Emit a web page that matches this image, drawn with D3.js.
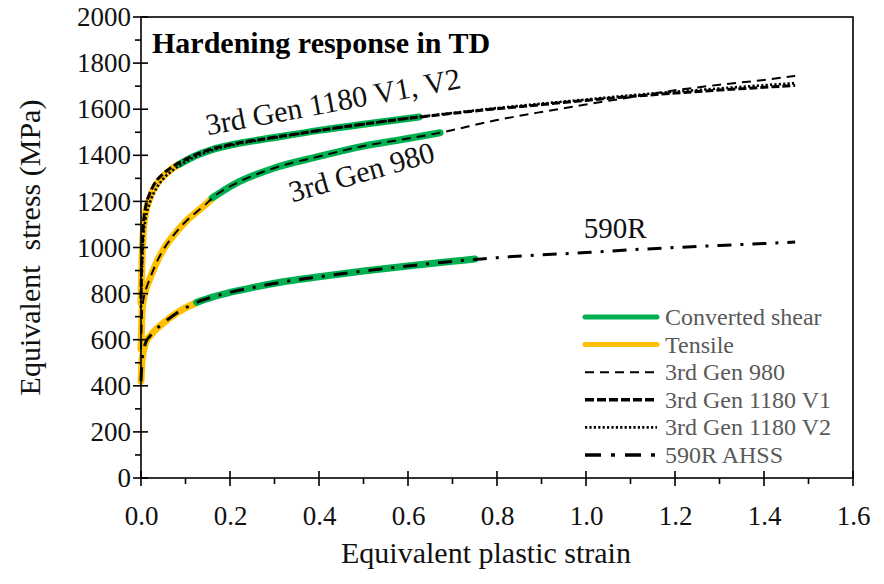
<!DOCTYPE html>
<html>
<head>
<meta charset="utf-8">
<script src="https://cdn.jsdelivr.net/npm/d3@7/dist/d3.min.js"></script>
<style>
  html, body { margin: 0; padding: 0; background: #fff; }
  svg { display: block; }
  text { font-family: "Liberation Serif", "Times New Roman", serif; }
</style>
</head>
<body>
<svg id="chart" width="884" height="584"></svg>
<script>
// Fitted hardening curves (equivalent plastic strain, equivalent stress in MPa)
const strain980 = [0, 0.003, 0.01, 0.02, 0.035, 0.05, 0.07, 0.1, 0.14, 0.17, 0.21, 0.3, 0.4, 0.5, 0.6, 0.67, 0.8, 0.9, 1.0, 1.1, 1.2, 1.3, 1.4, 1.47];
const stress980 = [560, 740, 810, 865, 935, 990, 1045, 1112, 1178, 1230, 1275, 1345, 1395, 1440, 1473, 1497, 1553, 1588, 1620, 1652, 1682, 1706, 1727, 1745];

const strain1180V1 = [0, 0.002, 0.005, 0.01, 0.02, 0.035, 0.05, 0.07, 0.09, 0.12, 0.16, 0.21, 0.3, 0.4, 0.5, 0.6, 0.7, 0.8, 0.9, 1.0, 1.1, 1.2, 1.3, 1.4, 1.47];
const stress1180V1 = [780, 960, 1090, 1170, 1235, 1290, 1320, 1350, 1372, 1400, 1428, 1450, 1478, 1508, 1535, 1560, 1582, 1602, 1620, 1638, 1655, 1670, 1683, 1695, 1703];

const strain1180V2 = [0, 0.002, 0.005, 0.01, 0.02, 0.035, 0.05, 0.07, 0.09, 0.12, 0.16, 0.21, 0.3, 0.4, 0.5, 0.6, 0.7, 0.8, 0.9, 1.0, 1.1, 1.2, 1.3, 1.4, 1.47];
const stress1180V2 = [740, 900, 1040, 1120, 1195, 1258, 1298, 1333, 1360, 1392, 1422, 1446, 1476, 1507, 1535, 1561, 1584, 1605, 1624, 1642, 1660, 1676, 1690, 1704, 1713];

const strain590R = [0, 0.002, 0.006, 0.011, 0.02, 0.034, 0.05, 0.079, 0.1, 0.125, 0.16, 0.2, 0.25, 0.31, 0.4, 0.5, 0.6, 0.7, 0.75, 0.8, 0.9, 1.0, 1.1, 1.2, 1.3, 1.4, 1.47];
const stress590R = [420, 500, 555, 590, 615, 645, 672, 714, 738, 762, 785, 805, 826, 848, 873, 898, 920, 940, 948, 956, 968, 978, 990, 1000, 1009, 1017, 1024];

// Measured data: tensile test (low strain) and converted shear test (high strain)
const tensileStrain590R = [0, 0.002, 0.006, 0.011, 0.02, 0.034, 0.05, 0.079, 0.1, 0.13];
const tensileStress590R = [420, 500, 555, 590, 615, 645, 672, 714, 738, 765];
const shearStrain590R = [0.125, 0.16, 0.2, 0.25, 0.31, 0.4, 0.5, 0.6, 0.7, 0.75];
const shearStress590R = [762, 785, 805, 826, 848, 873, 898, 920, 940, 950];

const tensileStrain980 = [0, 0.003, 0.01, 0.02, 0.035, 0.05, 0.07, 0.1, 0.14, 0.165];
const tensileStress980 = [560, 740, 810, 865, 935, 990, 1045, 1112, 1178, 1222];
const shearStrain980 = [0.16, 0.21, 0.3, 0.4, 0.5, 0.6, 0.672];
const shearStress980 = [1215, 1275, 1345, 1395, 1440, 1473, 1498];

const tensileStrain1180 = [0, 0.002, 0.005, 0.01, 0.02, 0.035, 0.05, 0.07, 0.09];
const tensileStress1180 = [760, 930, 1065, 1145, 1215, 1274, 1309, 1342, 1366];
const shearStrain1180 = [0.085, 0.12, 0.16, 0.21, 0.3, 0.4, 0.5, 0.6, 0.625];
const shearStress1180 = [1360, 1396, 1425, 1448, 1477, 1508, 1535, 1560, 1566];

// Axis ticks
const xTicks = [0, 0.2, 0.4, 0.6, 0.8, 1.0, 1.2, 1.4, 1.6];
const xMinorTicks = [0.1, 0.3, 0.5, 0.7, 0.9, 1.1, 1.3, 1.5];
const yTicks = [0, 200, 400, 600, 800, 1000, 1200, 1400, 1600, 1800, 2000];
const yMinorTicks = [100, 300, 500, 700, 900, 1100, 1300, 1500, 1700, 1900];

// Legend entries
const legendLabels = ["Converted shear", "Tensile", "3rd Gen 980", "3rd Gen 1180 V1", "3rd Gen 1180 V2", "590R AHSS"];

const GREEN = "#00b050";
const YELLOW = "#ffc000";

const svg = d3.select("#chart");
const plotLeft = 141, plotRight = 853, plotTop = 17, plotBottom = 478;

const x = d3.scaleLinear().domain([0, 1.6]).range([plotLeft, plotRight]);
const y = d3.scaleLinear().domain([0, 2000]).range([plotBottom, plotTop]);

const zip = (xs, ys) => xs.map((v, i) => [v, ys[i]]);
const line = d3.line().x(d => x(d[0])).y(d => y(d[1])).curve(d3.curveMonotoneX);

// Measured bands underneath
const bands = [
  [tensileStrain590R, tensileStress590R, YELLOW],
  [tensileStrain980, tensileStress980, YELLOW],
  [tensileStrain1180, tensileStress1180, YELLOW],
  [shearStrain590R, shearStress590R, GREEN],
  [shearStrain980, shearStress980, GREEN],
  [shearStrain1180, shearStress1180, GREEN]
];
svg.append("g").selectAll("path").data(bands).join("path")
  .attr("d", d => line(zip(d[0], d[1])))
  .attr("fill", "none")
  .attr("stroke", d => d[2])
  .attr("stroke-width", 7)
  .attr("stroke-linecap", "round")
  .attr("stroke-linejoin", "round");

// Fitted curves on top
const styles = {
  d980: { w: 2, dash: "9,6" },
  v1: { w: 3, dash: "8,3" },
  v2: { w: 2.6, dash: "2.2,2.2" },
  r590: { w: 3, dash: "14,9,3,9" }
};
const fits = [
  [strain980, stress980, styles.d980],
  [strain1180V1, stress1180V1, styles.v1],
  [strain1180V2, stress1180V2, styles.v2],
  [strain590R, stress590R, styles.r590]
];
svg.append("g").selectAll("path").data(fits).join("path")
  .attr("d", d => line(zip(d[0], d[1])))
  .attr("fill", "none")
  .attr("stroke", "#000")
  .attr("stroke-width", d => d[2].w)
  .attr("stroke-dasharray", d => d[2].dash);

// Frame
svg.append("rect")
  .attr("x", plotLeft).attr("y", plotTop)
  .attr("width", plotRight - plotLeft).attr("height", plotBottom - plotTop)
  .attr("fill", "none").attr("stroke", "#000").attr("stroke-width", 1.6);

// X axis: labels through d3.axisBottom, crossing major ticks and outward minor ticks
const xAxis = svg.append("g").attr("transform", `translate(0,${plotBottom})`)
  .call(d3.axisBottom(x).tickValues(xTicks).tickFormat(d3.format(".1f")).tickSize(0).tickPadding(28));
xAxis.select(".domain").remove();
xAxis.selectAll("text").attr("font-size", 27).attr("fill", "#111")
  .style("font-family", '"Liberation Serif", serif');
svg.append("g").selectAll("line").data(xTicks).join("line")
  .attr("x1", d => x(d)).attr("x2", d => x(d))
  .attr("y1", plotBottom - 7).attr("y2", plotBottom + 8)
  .attr("stroke", "#000").attr("stroke-width", 1.6);
svg.append("g").selectAll("line").data(xMinorTicks).join("line")
  .attr("x1", d => x(d)).attr("x2", d => x(d))
  .attr("y1", plotBottom).attr("y2", plotBottom + 6)
  .attr("stroke", "#000").attr("stroke-width", 1.6);

// Y axis
const yAxis = svg.append("g").attr("transform", `translate(${plotLeft},0)`)
  .call(d3.axisLeft(y).tickValues(yTicks).tickFormat(d3.format("d")).tickSize(0).tickPadding(10));
yAxis.select(".domain").remove();
yAxis.selectAll("text").attr("font-size", 27).attr("fill", "#111")
  .style("font-family", '"Liberation Serif", serif');
svg.append("g").selectAll("line").data(yTicks).join("line")
  .attr("x1", plotLeft - 8).attr("x2", plotLeft + 7)
  .attr("y1", d => y(d)).attr("y2", d => y(d))
  .attr("stroke", "#000").attr("stroke-width", 1.6);
svg.append("g").selectAll("line").data(yMinorTicks).join("line")
  .attr("x1", plotLeft - 6).attr("x2", plotLeft)
  .attr("y1", d => y(d)).attr("y2", d => y(d))
  .attr("stroke", "#000").attr("stroke-width", 1.6);

// Axis titles
svg.append("text")
  .attr("x", 486).attr("y", 563)
  .attr("text-anchor", "middle").attr("font-size", 30).attr("fill", "#111")
  .text("Equivalent plastic strain");
svg.append("text")
  .attr("transform", `translate(40,${(plotTop + plotBottom) / 2}) rotate(-90)`)
  .attr("text-anchor", "middle").attr("font-size", 30).attr("fill", "#111")
  .style("white-space", "pre")
  .text("Equivalent  stress (MPa)");

// Chart title
svg.append("text")
  .attr("x", 152).attr("y", 53)
  .attr("font-size", 30).attr("font-weight", "bold").attr("fill", "#000")
  .text("Hardening response in TD");

// Curve annotations
svg.append("text")
  .attr("transform", `translate(${x(0.15)},${y(1500) + 3}) rotate(-10.5)`)
  .attr("font-size", 30).attr("fill", "#111")
  .text("3rd Gen 1180 V1, V2");
svg.append("text")
  .attr("transform", `translate(${x(0.34)},${y(1200) + 1}) rotate(-16)`)
  .attr("font-size", 30).attr("fill", "#111")
  .text("3rd Gen 980");
svg.append("text")
  .attr("x", x(0.995)).attr("y", y(1040))
  .attr("font-size", 29).attr("fill", "#111")
  .text("590R");

// Legend
const legendX = 585, legendY0 = 317, legendStep = 27.6;
const legendStyles = [
  { c: GREEN, w: 5, dash: null },
  { c: YELLOW, w: 5, dash: null },
  { c: "#000", w: 2, dash: "9,6" },
  { c: "#000", w: 3.5, dash: "9,3" },
  { c: "#000", w: 2.6, dash: "2.2,2.2" },
  { c: "#000", w: 3.5, dash: "16,10,4,10" }
];
const legend = svg.append("g");
legendLabels.forEach((label, i) => {
  const yy = legendY0 + i * legendStep;
  legend.append("line")
    .attr("x1", legendX).attr("x2", legendX + 72)
    .attr("y1", yy).attr("y2", yy)
    .attr("stroke", legendStyles[i].c)
    .attr("stroke-width", legendStyles[i].w)
    .attr("stroke-linecap", legendStyles[i].dash ? "butt" : "round")
    .attr("stroke-dasharray", legendStyles[i].dash);
  legend.append("text")
    .attr("x", legendX + 80).attr("y", yy + 8)
    .attr("font-size", 24).attr("fill", "#595959")
    .text(label);
});
</script>
</body>
</html>
